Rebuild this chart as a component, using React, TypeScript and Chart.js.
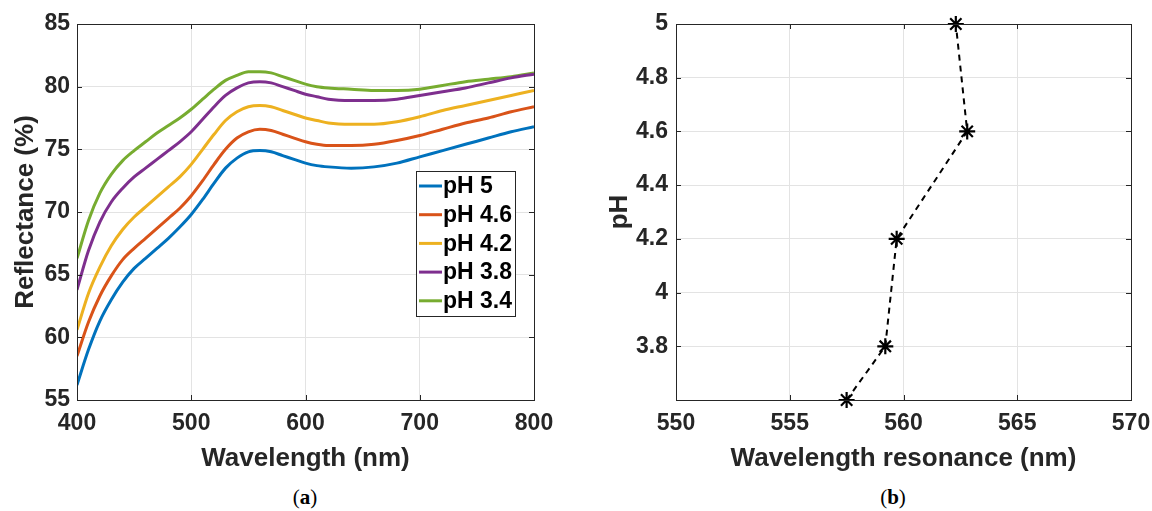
import React, { useEffect, useRef } from 'react';
import { Chart, registerables } from 'chart.js';
Chart.register(...registerables);

// ---------- Data: panel (a) ----------
const wavelengths = [
  400, 410, 420, 430, 440, 450, 460, 470, 480, 490, 500, 510, 520, 530, 540, 550,
  560, 570, 580, 590, 600, 610, 620, 640, 660, 680, 700, 720, 740, 760, 780, 800,
];
const seriesLabels = ['pH 5', 'pH 4.6', 'pH 4.2', 'pH 3.8', 'pH 3.4'];
const ph50 = [
  56.2, 59.0, 61.3, 63.0, 64.4, 65.5, 66.3, 67.1, 67.9, 68.8, 69.8, 71.0, 72.3, 73.5, 74.3, 74.8,
  74.9, 74.8, 74.5, 74.2, 73.9, 73.7, 73.6, 73.5, 73.6, 73.9, 74.4, 74.9, 75.4, 75.9, 76.4, 76.8,
];
const ph46 = [
  58.5, 61.2, 63.3, 64.9, 66.2, 67.1, 67.9, 68.7, 69.5, 70.3, 71.3, 72.5, 73.8, 75.0, 75.9, 76.4,
  76.6, 76.5, 76.2, 75.9, 75.6, 75.4, 75.3, 75.3, 75.4, 75.7, 76.1, 76.6, 77.1, 77.5, 78.0, 78.4,
];
const ph42 = [
  60.6, 63.5, 65.6, 67.3, 68.6, 69.6, 70.4, 71.2, 72.0, 72.8, 73.8, 75.0, 76.2, 77.3, 78.0, 78.4,
  78.5, 78.4, 78.1, 77.8, 77.5, 77.3, 77.1, 77.0, 77.0, 77.2, 77.6, 78.1, 78.5, 78.9, 79.3, 79.7,
];
const ph38 = [
  63.8, 66.9, 69.2, 70.8, 71.9, 72.8, 73.5, 74.2, 74.9, 75.6, 76.4, 77.4, 78.4, 79.3, 79.9, 80.3,
  80.4, 80.3, 80.0, 79.7, 79.4, 79.2, 79.0, 78.9, 78.9, 79.0, 79.3, 79.6, 79.9, 80.3, 80.7, 81.0,
];
const ph34 = [
  66.3, 69.3, 71.5, 73.0, 74.1, 74.9, 75.6, 76.3, 76.9, 77.5, 78.2, 79.0, 79.8, 80.5, 80.9, 81.2,
  81.2, 81.1, 80.8, 80.5, 80.2, 80.0, 79.9, 79.8, 79.7, 79.7, 79.8, 80.1, 80.4, 80.6, 80.8, 81.1,
];
const seriesColors = ['#0072BD', '#D95319', '#EDB120', '#7E2F8E', '#77AC30'];
const xTicksA = [400, 500, 600, 700, 800];
const yTicksA = [55, 60, 65, 70, 75, 80, 85];

// ---------- Data: panel (b) ----------
const resonance = [557.5, 559.2, 559.7, 562.8, 562.3];
const phValues = [3.6, 3.8, 4.2, 4.6, 5.0];
const xTicksB = [550, 555, 560, 565, 570];
const yTicksB = [3.6, 3.8, 4.0, 4.2, 4.4, 4.6, 4.8, 5.0];
const yTickLabelsB = ['', '3.8', '4', '4.2', '4.4', '4.6', '4.8', '5'];

const FONT = "'Liberation Sans', Arial, Helvetica, sans-serif";
const AXIS = '#262626';
const GRID = '#e3e3e3';

const boxPlugin = {
  id: 'matlabBox',
  afterDatasetsDraw(chart: any) {
    const { ctx, chartArea: a, scales } = chart;
    ctx.save();
    ctx.strokeStyle = AXIS;
    ctx.lineWidth = 1;
    const tl = 5;
    ctx.beginPath();
    const xs = scales.x, ys = scales.y;
    xs.ticks.forEach((t: any) => {
      const p = Math.round(xs.getPixelForValue(t.value)) + 0.5;
      if (p <= a.left + 1 || p >= a.right - 1) return;
      ctx.moveTo(p, a.bottom); ctx.lineTo(p, a.bottom - tl);
      ctx.moveTo(p, a.top); ctx.lineTo(p, a.top + tl);
    });
    ys.ticks.forEach((t: any) => {
      const p = Math.round(ys.getPixelForValue(t.value)) + 0.5;
      if (p <= a.top + 1 || p >= a.bottom - 1) return;
      ctx.moveTo(a.left, p); ctx.lineTo(a.left + tl, p);
      ctx.moveTo(a.right, p); ctx.lineTo(a.right - tl, p);
    });
    ctx.stroke();
    ctx.strokeRect(Math.round(a.left) + 0.5, Math.round(a.top) + 0.5, Math.round(a.right - a.left), Math.round(a.bottom - a.top));
    ctx.restore();
  },
};

const legendPlugin = {
  id: 'insideLegend',
  afterDraw(chart: any) {
    const { ctx, chartArea: a } = chart;
    const left = a.right - 118;
    const top = a.top + 147;
    const w = 99, h = 145;
    ctx.save();
    ctx.fillStyle = '#ffffff';
    ctx.fillRect(left, top, w, h);
    ctx.strokeStyle = AXIS;
    ctx.lineWidth = 1;
    ctx.strokeRect(left + 0.5, top + 0.5, w, h);
    chart.data.datasets.forEach((ds: any, i: number) => {
      const y = top + 15 + i * 28.7;
      ctx.strokeStyle = ds.borderColor;
      ctx.lineWidth = 3;
      ctx.beginPath();
      ctx.moveTo(left + 3, y);
      ctx.lineTo(left + 26, y);
      ctx.stroke();
      ctx.fillStyle = '#000000';
      ctx.font = `bold 23px ${FONT}`;
      ctx.textBaseline = 'middle';
      ctx.textAlign = 'left';
      ctx.fillText(ds.label, left + 27, y + 1);
    });
    ctx.restore();
  },
};

const fitX = (s: any) => { s.height = 75; s.paddingLeft = 0; s.paddingRight = 0; };

function ChartA() {
  const ref = useRef<HTMLCanvasElement>(null);
  useEffect(() => {
    const series = [ph50, ph46, ph42, ph38, ph34];
    const chart = new Chart(ref.current!, {
      type: 'line',
      data: {
        datasets: series.map((s, i) => ({
          label: seriesLabels[i],
          data: wavelengths.map((w, j) => ({ x: w, y: s[j] })),
          borderColor: seriesColors[i],
          backgroundColor: seriesColors[i],
          borderWidth: 3,
          pointRadius: 0,
          cubicInterpolationMode: 'monotone' as const,
          fill: false,
        })),
      },
      options: {
        responsive: false,
        animation: false,
        layout: { padding: { top: 24, right: 26, bottom: 0, left: 0 } },
        plugins: { legend: { display: false }, tooltip: { enabled: false } },
        scales: {
          x: {
            type: 'linear',
            min: 400,
            max: 800,
            afterBuildTicks: (s: any) => { s.ticks = xTicksA.map((v) => ({ value: v })); },
            afterFit: fitX,
            grid: { color: GRID, drawTicks: false },
            border: { display: false },
            ticks: { padding: 10, color: AXIS, autoSkip: false, maxRotation: 0, font: { family: FONT, size: 23, weight: 'bold' }, callback: (v: any) => String(v) },
            title: { display: true, text: 'Wavelength (nm)', color: AXIS, padding: { top: 0, bottom: 1 }, font: { family: FONT, size: 26, weight: 'bold' } },
          },
          y: {
            type: 'linear',
            min: 55,
            max: 85,
            afterBuildTicks: (s: any) => { s.ticks = yTicksA.map((v) => ({ value: v })); },
            afterFit: (s: any) => { s.width = 77; },
            grid: { color: GRID, drawTicks: false },
            border: { display: false },
            ticks: { padding: 7, color: AXIS, autoSkip: false, font: { family: FONT, size: 23, weight: 'bold' }, callback: (v: any) => String(v) },
            title: { display: true, text: 'Reflectance (%)', color: AXIS, padding: { top: 10, bottom: 0 }, font: { family: FONT, size: 26, weight: 'bold' } },
          },
        },
      },
      plugins: [boxPlugin, legendPlugin],
    } as any);
    return () => chart.destroy();
  }, []);
  return <canvas ref={ref} width={560} height={475} style={{ position: 'absolute', left: 0, top: 0 }} />;
}

function ChartB() {
  const ref = useRef<HTMLCanvasElement>(null);
  useEffect(() => {
    const chart = new Chart(ref.current!, {
      type: 'scatter',
      data: {
        datasets: [
          {
            label: 'Resonance',
            data: resonance.map((r, i) => ({ x: r, y: phValues[i] })),
            showLine: true,
            borderColor: '#000000',
            backgroundColor: '#000000',
            borderWidth: 2,
            borderDash: [6, 5],
            pointStyle: 'star',
            pointRadius: 8,
            pointBorderWidth: 2.2,
            pointBorderColor: '#000000',
            clip: false,
          },
        ],
      },
      options: {
        responsive: false,
        animation: false,
        layout: { padding: { top: 24, right: 21, bottom: 0, left: 0 } },
        plugins: { legend: { display: false }, tooltip: { enabled: false } },
        scales: {
          x: {
            type: 'linear',
            min: 550,
            max: 570,
            afterBuildTicks: (s: any) => { s.ticks = xTicksB.map((v) => ({ value: v })); },
            afterFit: fitX,
            grid: { color: GRID, drawTicks: false },
            border: { display: false },
            ticks: { padding: 10, color: AXIS, autoSkip: false, maxRotation: 0, font: { family: FONT, size: 23, weight: 'bold' }, callback: (v: any) => String(v) },
            title: { display: true, text: 'Wavelength resonance (nm)', color: AXIS, padding: { top: 0, bottom: 1 }, font: { family: FONT, size: 26, weight: 'bold' } },
          },
          y: {
            type: 'linear',
            min: 3.6,
            max: 5,
            afterBuildTicks: (s: any) => { s.ticks = yTicksB.map((v) => ({ value: v })); },
            afterFit: (s: any) => { s.width = 96; },
            grid: { color: GRID, drawTicks: false },
            border: { display: false },
            ticks: { padding: 8, color: AXIS, autoSkip: false, font: { family: FONT, size: 23, weight: 'bold' }, callback: (_v: any, i: number) => yTickLabelsB[i] },
            title: { display: true, text: 'pH', color: AXIS, padding: { top: 24, bottom: 0 }, font: { family: FONT, size: 26, weight: 'bold' } },
          },
        },
      },
      plugins: [boxPlugin],
    } as any);
    return () => chart.destroy();
  }, []);
  return <canvas ref={ref} width={572} height={475} style={{ position: 'absolute', left: 580, top: 0 }} />;
}

const captionStyle: React.CSSProperties = {
  position: 'absolute',
  top: 485,
  width: 80,
  textAlign: 'center',
  fontFamily: "'Liberation Serif', 'DejaVu Serif', serif",
  fontSize: 21,
  color: '#000',
  lineHeight: '24px',
};

export default function App() {
  return (
    <div style={{ position: 'absolute', left: 0, top: 0, width: 1152, height: 511, background: '#fff', overflow: 'hidden' }}>
      <ChartA />
      <ChartB />
      <div style={{ ...captionStyle, left: 305 - 40 }}>(<b>a</b>)</div>
      <div style={{ ...captionStyle, left: 893 - 40 }}>(<b>b</b>)</div>
    </div>
  );
}
